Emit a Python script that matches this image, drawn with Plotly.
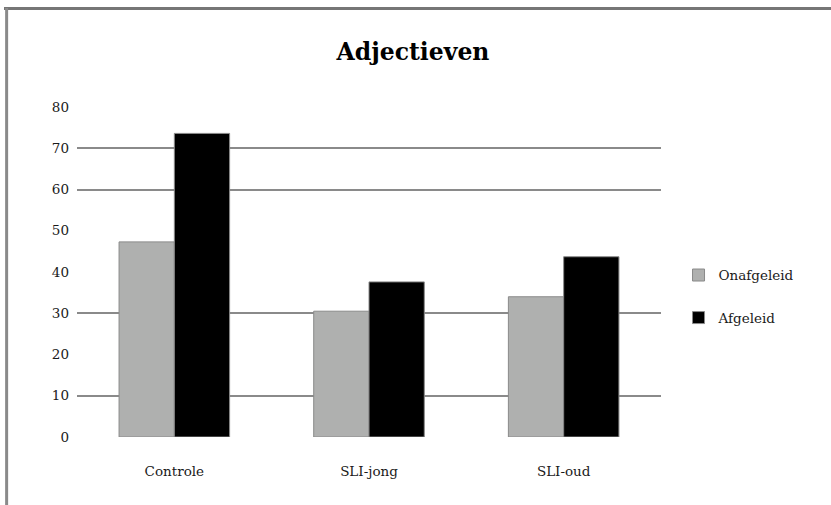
import plotly.graph_objects as go

categories = ["Controle", "SLI-jong", "SLI-oud"]
onafgeleid = [47.3, 30.5, 34.0]
afgeleid = [73.6, 37.6, 43.7]
y_ticks = [0, 10, 20, 30, 40, 50, 60, 70, 80]
grid_ticks = [10, 30, 60, 70]

FONT = "DejaVu Serif"

fig = go.Figure()
fig.add_trace(go.Bar(
    x=categories, y=onafgeleid, name="Onafgeleid", legendgroup="a",
    marker=dict(color="#afb0af", line=dict(color="#8a8a8a", width=1)),
))
fig.add_trace(go.Bar(
    x=categories, y=afgeleid, name="Afgeleid", legendgroup="b",
    marker=dict(color="#000000", line=dict(color="#8a8a8a", width=1)),
))
# invisible trace on overlay axis to carry the visible gridlines
fig.add_trace(go.Scatter(x=categories, y=[None] * len(categories), yaxis="y2",
                         showlegend=False, hoverinfo="skip"))

fig.update_layout(
    width=831, height=505,
    margin=dict(l=77, r=170, t=107, b=68),
    paper_bgcolor="white", plot_bgcolor="white",
    title=dict(text="<b>Adjectieven</b>", x=0.497, xref="container", xanchor="center",
               y=0.897, yref="container", yanchor="middle",
               font=dict(family=FONT, size=23.5, color="#000")),
    barmode="group", bargap=0.432, bargroupgap=0,
    font=dict(family=FONT, size=13.5, color="#1a1a1a"),
    xaxis=dict(showgrid=False, showline=False, zeroline=False, ticks="",
               ticklabelstandoff=24, tickfont=dict(size=13.5)),
    yaxis=dict(range=[0, 80], tickvals=y_ticks, showgrid=False, zeroline=False,
               showline=False, ticks="", ticklabelstandoff=7,
               tickfont=dict(size=13.5)),
    yaxis2=dict(range=[0, 80], overlaying="y", tickvals=grid_ticks,
                showticklabels=False, showgrid=True, gridcolor="#8a8a8a",
                gridwidth=1.7, zeroline=False, showline=False, ticks=""),
    legend=dict(x=1.03, xanchor="left", y=0.425, yanchor="middle",
                traceorder="grouped", tracegroupgap=22,
                font=dict(family=FONT, size=13.5, color="#1a1a1a"),
                bgcolor="rgba(0,0,0,0)"),
    shapes=[
        dict(type="line", xref="paper", yref="paper",
             x0=-0.125, x1=1.3, y0=1.2985, y1=1.2985,
             line=dict(color="#767676", width=3)),
        dict(type="line", xref="paper", yref="paper",
             x0=-0.1205, x1=-0.1205, y0=1.3, y1=-0.3,
             line=dict(color="#8a8a8a", width=3)),
    ],
)

fig.write_html("out.html", config={"displayModeBar": False},
               post_script="document.body.style.margin='0';")
